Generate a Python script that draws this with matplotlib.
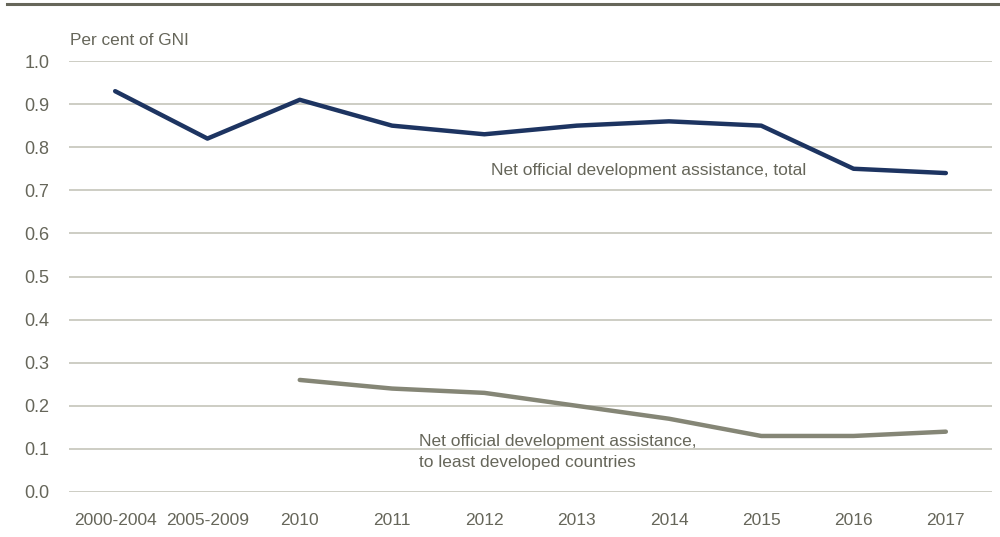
import numpy as np
import matplotlib.pyplot as plt
from matplotlib.lines import Line2D

# 数据
categories = ["2000-2004", "2005-2009", "2010", "2011", "2012", "2013",
              "2014", "2015", "2016", "2017"]
oda_total = [0.93, 0.82, 0.91, 0.85, 0.83, 0.85, 0.86, 0.85, 0.75, 0.74]
oda_ldc = [None, None, 0.26, 0.24, 0.23, 0.20, 0.17, 0.13, 0.13, 0.14]

text_color = "#66665a"
grid_color = "#c9c9bf"
navy = "#1d3461"
olive_gray = "#858676"

plt.rcParams['font.family'] = ['Liberation Sans Narrow', 'Liberation Sans', 'DejaVu Sans']

fig = plt.figure(figsize=(10, 5.37), dpi=100)
ax = fig.add_axes([0.069, 0.0838, 0.923, 0.8026])

x = np.arange(len(categories))
ldc = np.array([np.nan if v is None else v for v in oda_ldc], dtype=float)

ax.plot(x, oda_total, color=navy, linewidth=3.2, solid_capstyle='round', zorder=3)
ax.plot(x, ldc, color=olive_gray, linewidth=3.2, solid_capstyle='round', zorder=3)

ax.set_xlim(-0.5, len(categories) - 0.5)
ax.set_ylim(0, 1.0)
ax.set_yticks(np.arange(0, 1.01, 0.1))
ax.set_yticklabels([f"{v:.1f}" for v in np.arange(0, 1.01, 0.1)])
ax.set_xticks(x)
ax.set_xticklabels(categories)

ax.grid(axis='y', color=grid_color, linewidth=1.3, zorder=0)
ax.set_axisbelow(True)
for s in ax.spines.values():
    s.set_visible(False)
ax.tick_params(axis='x', length=0, labelsize=12.5, colors=text_color, pad=15)
ax.tick_params(axis='y', length=0, labelsize=13, colors=text_color, pad=14)

# 标注
ax.text(5.78, 0.747, "Net official development assistance, total",
        fontsize=12.5, color=text_color, ha='center', va='center')
ax.text(3.29, 0.093, "Net official development assistance,\nto least developed countries",
        fontsize=12.5, color=text_color, ha='left', va='center', linespacing=1.45)

fig.text(0.070, 0.925, "Per cent of GNI", fontsize=12.4, color=text_color,
         ha='left', va='center')

# 顶部横线
fig.add_artist(Line2D([0.007, 1.0], [0.9926, 0.9926], color="#66665a",
                      linewidth=2.2, transform=fig.transFigure))

fig.savefig("out.png", dpi=100)
